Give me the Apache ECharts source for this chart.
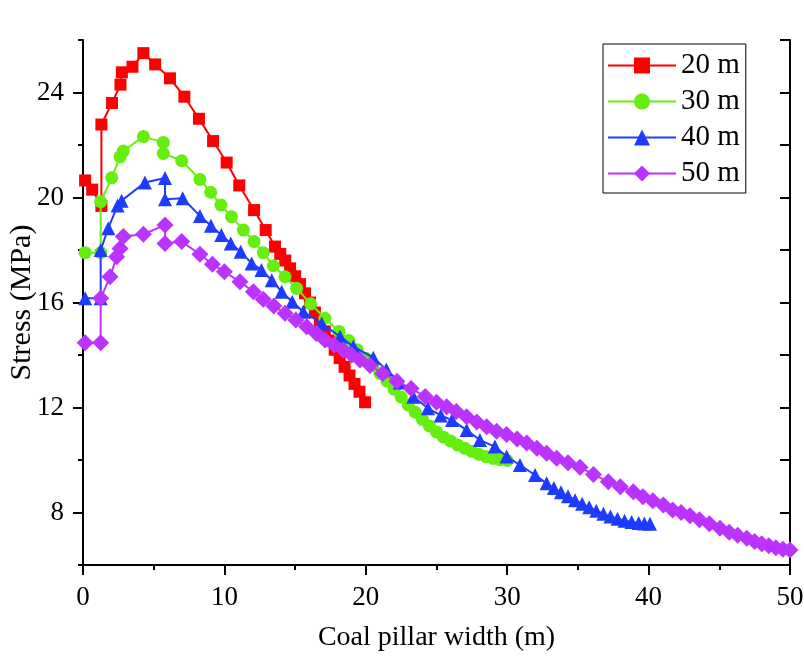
<!DOCTYPE html>
<html>
<head>
<meta charset="utf-8">
<script src="https://cdn.jsdelivr.net/npm/echarts@6/dist/echarts.min.js"></script>
<style>
html,body{margin:0;padding:0;background:#fff;}
#chart{width:804px;height:665px;}
</style>
</head>
<body>
<div id="chart"></div>
<script>
const seriesNames = ['20 m', '30 m', '40 m', '50 m'];
const xTickLabels = [0, 10, 20, 30, 40, 50];
const yTickLabels = [8, 12, 16, 20, 24];

const x20 = [0.15, 0.65, 1.3, 1.3, 2.05, 2.65, 2.75, 3.5, 4.27, 5.1, 6.15, 7.17, 8.2, 9.2, 10.16, 11.05, 12.1, 12.92, 13.58, 13.95, 14.3, 14.65, 15.0, 15.35, 15.7, 16.05, 16.4, 16.75, 17.1, 17.45, 17.8, 18.15, 18.5, 18.85, 19.2, 19.55, 19.95];
const y20 = [20.65, 20.3, 19.68, 22.78, 23.6, 24.3, 24.77, 24.98, 25.5, 25.07, 24.54, 23.84, 23.0, 22.15, 21.33, 20.46, 19.52, 18.76, 18.13, 17.85, 17.6, 17.3, 17.0, 16.7, 16.35, 16.0, 15.62, 15.25, 14.9, 14.55, 14.2, 13.88, 13.55, 13.22, 12.9, 12.6, 12.2];

const x30 = [0.15, 1.25, 1.25, 2.03, 2.62, 2.85, 4.27, 5.68, 5.68, 6.98, 8.27, 9.03, 9.75, 10.5, 11.34, 12.1, 12.75, 13.46, 14.29, 15.11, 16.1, 17.11, 18.1, 18.8, 19.4, 20.0, 20.5, 21.0, 21.5, 22.0, 22.5, 23.0, 23.5, 24.0, 24.5, 25.0, 25.5, 26.0, 26.5, 27.0, 27.5, 28.0, 28.5, 29.0, 29.5, 30.0];
const y30 = [17.9, 17.9, 19.84, 20.75, 21.55, 21.77, 22.32, 22.1, 21.68, 21.4, 20.69, 20.2, 19.71, 19.27, 18.76, 18.32, 17.9, 17.4, 16.98, 16.54, 15.95, 15.4, 14.9, 14.55, 14.2, 13.88, 13.6, 13.3, 13.0, 12.7, 12.4, 12.1, 11.82, 11.55, 11.3, 11.07, 10.87, 10.72, 10.57, 10.45, 10.33, 10.22, 10.13, 10.06, 10.01, 9.98];

const x40 = [0.15, 1.25, 1.25, 1.79, 2.45, 2.73, 4.38, 5.8, 5.8, 7.05, 8.27, 9.05, 9.78, 10.45, 11.15, 11.93, 12.62, 13.35, 14.05, 14.8, 15.58, 16.88, 18.18, 19.12, 20.53, 21.45, 22.4, 23.36, 24.4, 25.3, 26.1, 27.13, 28.07, 29.13, 29.96, 30.9, 31.97, 32.79, 33.3, 33.8, 34.3, 34.8, 35.3, 35.8, 36.3, 36.8, 37.3, 37.8, 38.3, 38.8, 39.3, 39.7, 40.1];
const y40 = [16.16, 16.16, 18.0, 18.83, 19.7, 19.88, 20.57, 20.74, 19.93, 19.97, 19.3, 18.92, 18.57, 18.25, 17.93, 17.49, 17.24, 16.85, 16.41, 16.03, 15.65, 15.2, 14.7, 14.32, 13.9, 13.45, 12.95, 12.41, 11.97, 11.7, 11.52, 11.14, 10.76, 10.51, 10.13, 9.81, 9.43, 9.11, 8.93, 8.77, 8.62, 8.47, 8.33, 8.2, 8.07, 7.95, 7.85, 7.76, 7.69, 7.64, 7.6, 7.58, 7.57];

const x50 = [0.15, 1.25, 1.25, 1.91, 2.38, 2.62, 2.85, 4.27, 5.8, 5.8, 6.98, 8.27, 9.15, 10.0, 11.1, 12.05, 12.75, 13.5, 14.29, 15.05, 15.82, 16.5, 17.11, 17.75, 18.41, 19.0, 19.59, 20.3, 21.2, 22.2, 23.2, 24.2, 25.0, 25.72, 26.4, 27.13, 27.85, 28.55, 29.25, 29.96, 30.7, 31.38, 32.1, 32.79, 33.5, 34.3, 35.15, 36.1, 37.15, 38.0, 38.92, 39.6, 40.3, 41.04, 41.7, 42.3, 42.93, 43.6, 44.3, 45.05, 45.7, 46.3, 46.94, 47.5, 48.0, 48.5, 49.0, 49.5, 50.0];
const y50 = [14.47, 14.47, 16.16, 16.98, 17.74, 18.06, 18.51, 18.6, 18.95, 18.25, 18.32, 17.84, 17.46, 17.17, 16.79, 16.41, 16.12, 15.87, 15.59, 15.33, 15.08, 14.82, 14.57, 14.38, 14.19, 14.0, 13.81, 13.6, 13.3, 13.0, 12.72, 12.42, 12.2, 12.03, 11.85, 11.65, 11.45, 11.27, 11.1, 10.97, 10.8, 10.65, 10.45, 10.26, 10.07, 9.9, 9.72, 9.45, 9.17, 8.98, 8.79, 8.6, 8.45, 8.29, 8.1, 8.0, 7.88, 7.72, 7.57, 7.4, 7.25, 7.13, 7.02, 6.9, 6.81, 6.73, 6.66, 6.6, 6.57];

const FONT = "'Times New Roman', 'Liberation Serif', serif";
const colors = ['#FF0000', '#66EE11', '#1E3CFF', '#BB33FF'];
const symbols = ['rect', 'circle', 'triangle', 'diamond'];
const sizes = [12, 13, 14, 17];
const xs = [x20, x30, x40, x50];
const ys = [y20, y30, y40, y50];

const chart = echarts.init(document.getElementById('chart'), null, {renderer: 'canvas'});
const black = '#000';
const option = {
  animation: false,
  backgroundColor: '#fff',
  grid: {left: 83, right: 14, top: 40, bottom: 100, containLabel: false, outerBoundsMode: 'none'},
  legend: {
    data: seriesNames,
    orient: 'vertical',
    left: 603,
    top: 44,
    padding: [7, 6, 5, 4],
    itemWidth: 68,
    itemHeight: 20,
    itemGap: 7,
    borderColor: '#000',
    borderWidth: 1,
    borderRadius: 0,
    textStyle: {fontFamily: FONT, fontSize: 29, color: black}
  },
  xAxis: {
    type: 'value', min: 0, max: 50, interval: 10,
    name: 'Coal pillar width (m)', nameLocation: 'middle', nameGap: 59,
    nameTextStyle: {fontFamily: FONT, fontSize: 28, color: black},
    axisLine: {show: true, onZero: false, lineStyle: {color: black, width: 2}},
    axisTick: {show: true, length: 10, inside: false, lineStyle: {color: black, width: 2}},
    minorTick: {show: true, splitNumber: 2, length: 5, lineStyle: {color: black, width: 2}},
    axisLabel: {fontFamily: FONT, fontSize: 27, color: black, margin: 19,
      formatter: v => (xTickLabels.indexOf(v) >= 0 ? String(v) : '')},
    splitLine: {show: false}, minorSplitLine: {show: false}
  },
  yAxis: [
    {
      type: 'value', min: 6, max: 26, interval: 2, position: 'left',
      name: 'Stress (MPa)', nameLocation: 'middle', nameGap: 46, nameRotate: 90,
      nameTextStyle: {fontFamily: FONT, fontSize: 30, color: black},
      axisLine: {show: true, onZero: false, lineStyle: {color: black, width: 2}},
      axisTick: {show: true, length: 5, inside: false, lineStyle: {color: black, width: 2}},
      axisLabel: {show: false},
      splitLine: {show: false}
    },
    {
      type: 'value', min: 6, max: 26, position: 'left',
      axisLine: {show: false},
      axisTick: {show: true, length: 10, inside: false, customValues: yTickLabels, lineStyle: {color: black, width: 2}},
      axisLabel: {show: true, customValues: yTickLabels, fontFamily: FONT, fontSize: 27, color: black, margin: 19},
      splitLine: {show: false}
    },
    {
      type: 'value', min: 6, max: 26, interval: 2, position: 'right',
      axisLine: {show: true, onZero: false, lineStyle: {color: black, width: 2}},
      axisTick: {show: true, length: 10, inside: true, lineStyle: {color: black, width: 2}},
      axisLabel: {show: false},
      splitLine: {show: false}
    }
  ],
  series: seriesNames.map((name, i) => ({
    name: name,
    type: 'line',
    xAxisIndex: 0,
    yAxisIndex: 0,
    data: xs[i].map((x, j) => [x, ys[i][j]]),
    symbol: symbols[i],
    symbolSize: sizes[i],
    showSymbol: true,
    showAllSymbol: true,
    lineStyle: {color: colors[i], width: 2},
    itemStyle: {color: colors[i], borderWidth: 0},
    emphasis: {disabled: true},
    z: 2 + i
  }))
};
chart.setOption(option);
</script>
</body>
</html>
